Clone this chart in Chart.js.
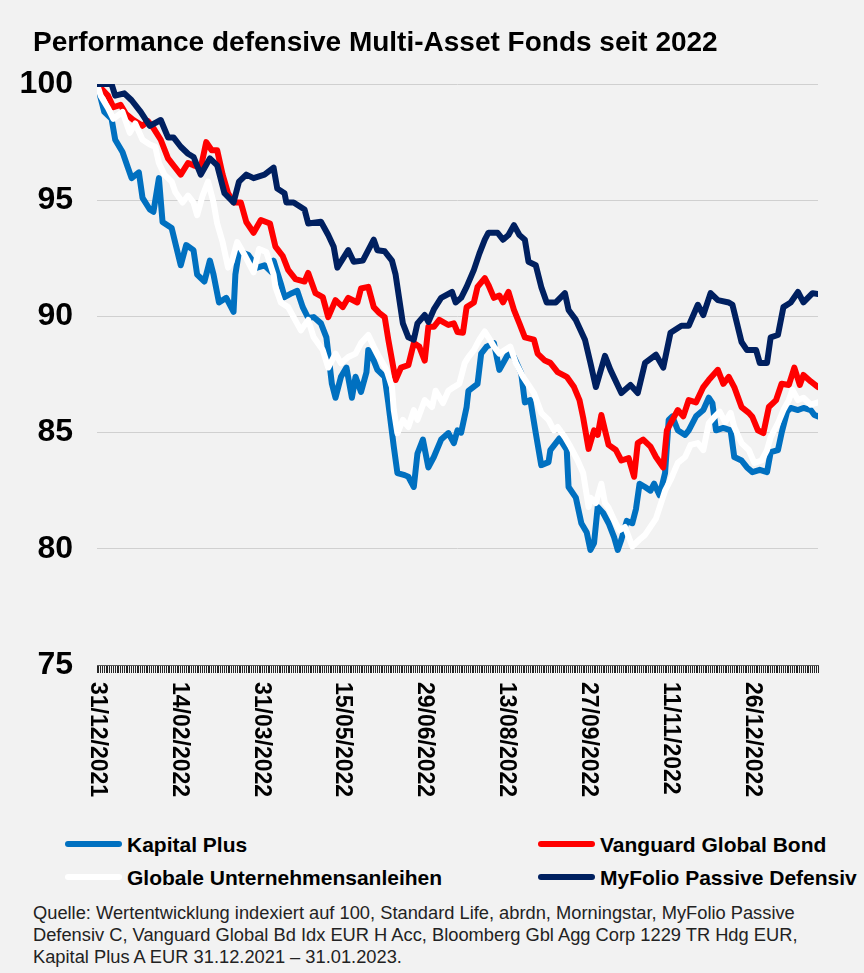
<!DOCTYPE html>
<html>
<head>
<meta charset="utf-8">
<script src="https://cdn.jsdelivr.net/npm/chart.js@4.4.0/dist/chart.umd.min.js"></script>
<style>
  body { margin: 0; background: #f2f2f2; font-family: Arial, "Liberation Sans", sans-serif; color: #000; }
  #wrap { position: relative; width: 864px; height: 973px; overflow: hidden; }
  #title { position: absolute; left: 33px; top: 25px; font-weight: bold; font-size: 28px; line-height: 34px; white-space: nowrap; }
  #chartBox { position: absolute; left: 0; top: 0; width: 864px; height: 800px; }
  .leg { position: absolute; font-weight: bold; font-size: 21px; line-height: 24px; white-space: nowrap; }
  .leg span { display: inline-block; width: 57px; height: 6px; border-radius: 3px; vertical-align: middle; margin-right: 5px; position: relative; top: -2px; }
  #source { position: absolute; left: 33px; top: 902px; font-size: 18.3px; line-height: 22px; color: #222; white-space: nowrap; }
</style>
</head>
<body>
<div id="wrap">
  <div id="chartBox"><canvas id="perfChart"></canvas></div>
  <div id="title">Performance defensive Multi-Asset Fonds seit 2022</div>
  <div class="leg" style="left:65px; top:833px;"><span style="background:#0070c0"></span>Kapital Plus</div>
  <div class="leg" style="left:538px; top:833px;"><span style="background:#ff0000"></span>Vanguard Global Bond</div>
  <div class="leg" style="left:65px; top:866px;"><span style="background:#ffffff"></span>Globale Unternehmensanleihen</div>
  <div class="leg" style="left:538px; top:866px;"><span style="background:#002060"></span>MyFolio Passive Defensiv</div>
  <div id="source">Quelle: Wertentwicklung indexiert auf 100, Standard Life, abrdn, Morningstar, MyFolio Passive<br>Defensiv C, Vanguard Global Bd Idx EUR H Acc, Bloomberg Gbl Agg Corp 1229 TR Hdg EUR,<br>Kapital Plus A EUR 31.12.2021 &ndash; 31.01.2023.</div>
</div>

<script>
// Axis labels (day index from 31/12/2021)
const xLabels = ['31/12/2021', '14/02/2022', '31/03/2022', '15/05/2022', '29/06/2022',
  '13/08/2022', '27/09/2022', '11/11/2022', '26/12/2022'];
const xLabelDays = [0, 45, 90, 135, 180, 225, 270, 315, 360];
const lastDay = 396;

// Kapital Plus
const kapitalDays = [0,4,8,10,14,17,19,23,25,29,31,34,36,41,43,46,49,53,55,59,62,64,67,71,75,76,78,83,88,92,96,97,101,103,107,110,113,116,119,123,126,129,131,134,137,140,142,145,148,149,152,154,158,160,163,165,169,171,174,176,179,182,185,189,193,196,198,200,203,204,209,211,214,218,221,226,229,233,235,238,241,244,248,249,254,258,259,263,266,269,271,273,275,278,281,284,286,288,291,294,296,298,301,304,306,309,312,314,316,319,323,325,329,333,336,338,340,344,348,350,354,357,360,364,368,370,374,376,379,381,385,388,392,394,396];
const kapitalValues = [100,98.8,98.5,97.6,97.07,96.4,95.95,96.2,95.1,94.6,94.5,95.95,94.06,93.8,93.16,92.2,93.07,92.85,91.8,91.5,92.4,91.8,90.6,90.8,90.2,91.8,92.8,92.65,92.1,92.2,91.9,92.4,91.4,90.83,91.0,91.1,90.4,89.93,89.97,89.7,89.1,87.1,86.5,87.4,87.8,86.5,87.4,86.75,87.6,88.55,88.1,87.7,87.4,86.27,84.4,83.26,83.17,83.1,82.66,84.1,84.7,83.5,83.95,84.7,84.98,84.55,85.1,85.0,86.1,86.8,87.1,88.4,88.7,88.85,87.7,88.4,88.25,87.55,86.3,86.4,84.97,83.6,83.73,84.25,84.75,84.25,82.66,82.2,81.1,80.7,79.95,80.25,81.8,81.54,81.1,80.5,79.95,80.4,81.2,81.1,81.7,82.8,82.66,82.5,82.8,82.3,83.26,85.55,85.7,85.1,84.9,85.1,85.7,85.97,86.5,86.27,85.1,85.2,85.1,83.95,83.8,83.5,83.3,83.4,83.3,84.16,84.25,84.98,85.9,86.06,85.97,86.06,85.97,85.76,85.7];

// Vanguard Global Bond
const vanguardDays = [0,6,9,13,16,20,25,28,31,35,39,42,46,50,53,57,60,63,66,69,72,75,79,82,86,90,95,98,102,105,109,114,116,120,124,127,131,135,138,143,145,149,152,155,158,160,164,167,171,174,177,180,182,185,188,193,196,198,201,203,207,209,213,215,218,221,223,226,229,232,235,240,242,246,249,253,258,262,265,267,270,273,275,277,279,281,285,288,292,295,297,300,304,307,311,313,315,319,322,325,329,333,336,341,344,347,350,354,358,360,363,366,369,373,376,380,383,386,388,392,396];
const vanguardValues = [100,99.5,99.0,99.1,98.7,98.45,98.2,98.4,98.1,97.6,96.8,96.5,96.1,96.6,96.5,96.4,97.5,97.15,97.15,96.1,95.3,94.9,94.9,94.06,93.6,94.15,94.0,93.0,92.6,92.0,91.6,91.5,91.87,91.0,90.83,89.97,90.7,90.4,90.8,90.6,91.2,91.27,90.4,90.15,89.97,89.0,87.26,87.8,87.9,88.85,88.7,88.1,89.55,89.55,89.85,89.63,89.7,89.33,89.3,90.4,90.6,91.27,91.65,91.35,90.8,90.9,90.6,91.05,90.28,89.7,89.1,89.0,88.4,88.1,88.0,87.6,87.4,86.96,86.4,85.65,84.3,85.1,84.9,85.76,85.1,84.47,84.25,83.8,83.9,83.1,84.55,84.7,84.4,83.95,83.5,85.1,85.4,85.97,85.7,86.4,86.3,86.96,87.26,87.7,87.1,87.4,86.96,86.1,85.85,85.67,85.1,84.98,86.1,86.4,87.1,87.05,87.8,87.05,87.48,87.2,86.96];

// Globale Unternehmensanleihen
const globaleDays = [0,2,6,9,14,18,21,25,29,32,34,37,41,43,47,50,53,55,58,61,64,66,69,72,74,77,81,86,89,93,97,98,101,105,108,112,116,119,124,127,131,134,138,142,145,149,152,155,159,162,163,165,168,171,174,176,180,184,186,190,193,196,199,202,204,207,210,213,215,218,221,224,227,230,234,237,240,244,248,251,253,257,260,264,267,270,271,274,277,279,281,284,287,290,294,296,298,301,307,312,315,319,323,326,330,333,336,339,342,345,348,350,354,358,361,365,368,370,374,377,380,382,385,388,392,396];
const globaleValues = [100,99.5,98.97,98.5,98.8,97.9,98.3,97.6,97.4,97.3,96.6,96.1,95.8,95.35,94.9,95.2,94.9,94.36,95.2,95.8,94.9,94.0,93.2,92.1,92.35,93.2,92.65,91.9,92.9,92.77,91.8,91.27,90.6,90.4,89.97,89.4,89.85,89.1,88.55,87.8,88.4,87.98,88.25,88.4,88.85,89.2,88.7,88.25,87.7,86.96,85.97,84.97,85.55,85.24,85.97,85.55,86.4,86.1,86.8,86.27,86.8,86.96,87.1,88.0,88.25,88.55,89.0,89.35,89.1,88.7,88.4,88.55,88.7,88.0,87.4,87.05,86.7,85.85,85.55,85.1,85.24,84.8,84.4,83.8,83.26,81.8,82.2,81.97,82.8,81.97,81.76,81.24,80.8,80.94,80.1,80.25,80.4,80.6,81.3,82.5,82.96,83.7,83.95,84.47,84.55,84.25,85.4,85.67,85.9,85.45,85.85,85.24,84.55,84.25,83.7,83.8,84.25,84.8,85.4,85.97,86.4,86.84,86.4,86.5,86.2,86.3];

// MyFolio Passive Defensiv
const myfolioDays = [0,8,10,15,19,24,29,35,39,42,46,50,53,57,62,66,70,75,78,82,86,92,97,99,103,104,108,114,116,123,127,130,132,138,141,146,149,152,154,158,162,164,168,171,174,176,180,182,185,189,195,197,200,203,207,210,213,215,220,223,226,229,232,235,237,241,244,247,252,257,259,263,268,271,274,279,282,288,293,297,301,307,311,315,321,325,330,333,337,341,347,349,354,357,362,364,368,370,374,377,381,385,388,393,396];
const myfolioValues = [100,100,99.5,99.6,99.3,98.8,98.2,98.45,97.7,97.7,97.3,97.0,96.86,96.1,96.8,96.5,95.3,94.9,95.8,96.1,95.95,96.1,96.4,95.5,95.3,94.9,94.9,94.6,94.0,94.07,93.5,93.0,92.1,92.85,92.35,92.4,92.85,93.3,92.85,92.8,92.4,91.8,89.7,89.1,89.0,89.7,90.06,89.76,90.3,90.8,91.05,90.6,90.8,91.27,92.0,92.7,93.3,93.6,93.6,93.3,93.5,93.93,93.5,93.3,92.35,92.2,91.27,90.6,90.6,91.0,90.28,89.85,89.0,88.0,86.96,88.3,87.7,86.7,87.05,86.7,88.0,88.35,87.8,89.3,89.6,89.6,90.5,90.06,91.0,90.7,90.6,90.5,88.9,88.55,88.55,88.0,88.0,89.1,89.2,90.4,90.6,91.05,90.6,91.0,90.96];

function toPoints(days, values) {
  return days.map((d, i) => ({ x: d, y: values[i] }));
}

function makeSeries(label, days, values, color, order) {
  return {
    label: label,
    data: toPoints(days, values),
    borderColor: color,
    backgroundColor: color,
    borderWidth: 6,
    pointRadius: 0,
    tension: 0,
    borderJoinStyle: 'round',
    borderCapStyle: 'round',
    order: order
  };
}

// Rotated date labels under the axis (reading top to bottom)
const dateLabelPlugin = {
  id: 'dateLabels',
  afterDraw(chart) {
    const ctx = chart.ctx;
    const xScale = chart.scales.x;
    ctx.save();
    ctx.fillStyle = '#000';
    ctx.font = 'bold 23px Arial, "Liberation Sans", sans-serif';
    ctx.textAlign = 'left';
    ctx.textBaseline = 'middle';
    xLabelDays.forEach((d, i) => {
      const x = xScale.getPixelForValue(d);
      ctx.save();
      ctx.translate(x, chart.chartArea.bottom + 17);
      ctx.rotate(Math.PI / 2);
      ctx.fillText(xLabels[i], 0, 0);
      ctx.restore();
    });
    ctx.restore();
  }
};

const ctx = document.getElementById('perfChart');
new Chart(ctx, {
  type: 'line',
  data: {
    datasets: [
      makeSeries('Kapital Plus', kapitalDays, kapitalValues, '#0070c0', 4),
      makeSeries('Vanguard Global Bond', vanguardDays, vanguardValues, '#ff0000', 3),
      makeSeries('Globale Unternehmensanleihen', globaleDays, globaleValues, '#ffffff', 2),
      makeSeries('MyFolio Passive Defensiv', myfolioDays, myfolioValues, '#002060', 1)
    ]
  },
  plugins: [dateLabelPlugin],
  options: {
    responsive: true,
    maintainAspectRatio: false,
    animation: false,
    layout: {
      padding: { top: 84, right: 46, bottom: 0, left: 0 }
    },
    plugins: {
      legend: { display: false },
      title: { display: false },
      tooltip: { enabled: false }
    },
    scales: {
      x: {
        type: 'linear',
        min: 0,
        max: lastDay,
        afterFit: function(scale) { scale.height = 135; },
        ticks: {
          display: false,
          stepSize: 1,
          autoSkip: false
        },
        grid: {
          drawOnChartArea: false,
          drawTicks: true,
          tickLength: 8,
          color: '#262626',
          lineWidth: 1
        },
        border: { display: true, color: '#595959', width: 1 }
      },
      y: {
        min: 75,
        max: 100,
        afterFit: function(scale) { scale.width = 97; },
        ticks: {
          stepSize: 5,
          padding: 24,
          color: '#000',
          font: { family: 'Arial, "Liberation Sans", sans-serif', size: 32, weight: 'bold' }
        },
        grid: {
          drawTicks: false,
          color: '#d0d0d0',
          lineWidth: 1
        },
        border: { display: false }
      }
    }
  }
});
</script>
</body>
</html>
